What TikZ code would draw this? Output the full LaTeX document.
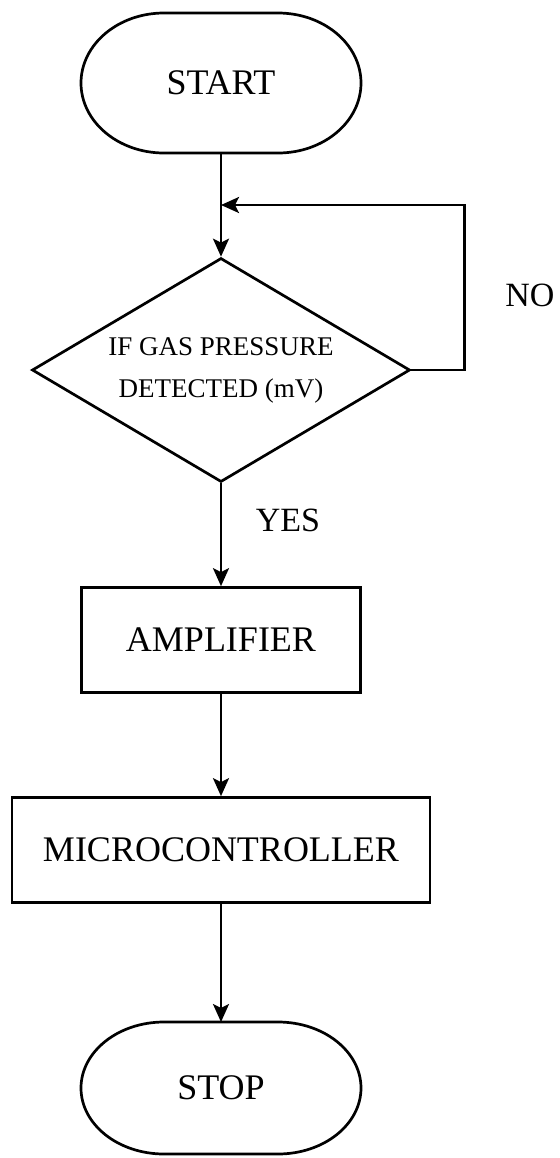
\documentclass[tikz,border=0pt]{standalone}
\usepackage{fontspec}
\setmainfont{Liberation Serif}
\usetikzlibrary{arrows.meta,shapes.geometric}

\newcommand\termoutline[2]{%
 \draw ([xshift=-28.5pt]#1.north)--([xshift=28.5pt]#1.north)
  arc[start angle=90,end angle=-90,x radius=41.5pt,y radius=#2]
  --([xshift=-28.5pt]#1.south)
  arc[start angle=270,end angle=90,x radius=41.5pt,y radius=#2]--cycle;}

\begin{document}
\begin{tikzpicture}[x=0.5pt,y=-0.5pt,line width=1.35pt,
 term/.style={rectangle,outer sep=0pt,minimum width=140pt,minimum height=70pt,font=\fontsize{18}{20}\selectfont},
 proc/.style={draw,rectangle,minimum height=52.5pt,font=\fontsize{18}{20}\selectfont},
 decide/.style={draw,diamond,shape aspect=1.7,inner sep=0pt,minimum width=189pt,minimum height=112pt,align=center,font=\fontsize{13.5}{21}\selectfont},
 lbl/.style={font=\fontsize{17}{20}\selectfont},
 >={Stealth[length=9pt,width=8pt,inset=2pt]}]
 \useasboundingbox (0,0) rectangle (559,1158);
 \node[term] (start) at (221,83) {START};
 \termoutline{start}{35pt}
 \node[decide] (check) at (221,370) {IF GAS PRESSURE\\DETECTED (mV)};
 \node[proc,minimum width=139.5pt] (amp) at (221,640) {AMPLIFIER};
 \node[proc,minimum width=209pt] (mcu) at (221,850) {MICROCONTROLLER};
 \node[term,minimum height=66pt] (stop) at (221,1088) {STOP};
 \termoutline{stop}{33pt}
 \node[lbl] (no) at (530,295) {NO};
 \node[lbl] (yes) at (288,520) {YES};
 \coordinate (join) at (221,205);
 \draw[->] (start.south)--(check.north);
 \draw[->] (check.east)--++(53,0)|-(join);
 \draw[->] (check.south)--(amp.north);
 \draw[->] (amp.south)--(mcu.north);
 \draw[->] (mcu.south)--(stop.north);
\end{tikzpicture}
\end{document}
